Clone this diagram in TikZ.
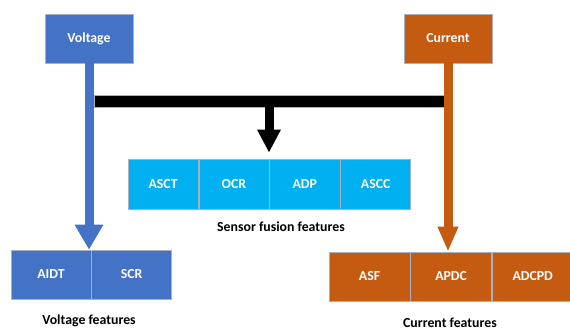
\documentclass[tikz,border=0pt]{standalone}
\usepackage{fontspec}
\setmainfont{Carlito}
\usetikzlibrary{arrows.meta,positioning}
\definecolor{voltblue}{HTML}{4472C4}
\definecolor{currorange}{HTML}{C55A11}
\definecolor{fusioncyan}{HTML}{00B0F0}
\definecolor{edgegray}{HTML}{A9B1C0}

\begin{document}
\begin{tikzpicture}[x=1pt,y=-1pt]
	\tikzstyle{every node}=[font=\fontsize{13.8}{16}\selectfont\bfseries]
	\tikzstyle{srcbox}=[draw=edgegray, line width=0.6pt, text=white, minimum width=88pt, minimum height=49pt, inner sep=0pt]
	\tikzstyle{cell}=[draw=edgegray, line width=0.6pt, text=white, minimum height=49pt, inner sep=0pt]
	\tikzstyle{feed}=[line width=9pt]
	\useasboundingbox (0,0) rectangle (570,332);
	% sources and bus bar
	\node [srcbox, fill=voltblue] (volt) at (89,38.5) {Voltage};
	\node [srcbox, fill=currorange] (curr) at (448,38.5) {Current};
	\node [draw=edgegray, fill=black, line width=0.6pt, minimum width=350pt, minimum height=12pt, inner sep=0pt] (bus) at (269,101) {};
	% sensor fusion features
	\node [cell, fill=fusioncyan, minimum width=70.25pt, minimum height=50pt] (asct) at (163.1,184) {ASCT};
	\node [cell, fill=fusioncyan, minimum width=70.25pt, minimum height=50pt, right=0pt of asct] (ocr) {OCR};
	\node [cell, fill=fusioncyan, minimum width=70.25pt, minimum height=50pt, right=0pt of ocr] (adp) {ADP};
	\node [cell, fill=fusioncyan, minimum width=70.25pt, minimum height=50pt, right=0pt of adp] (ascc) {ASCC};
	% voltage features
	\node [cell, fill=voltblue, minimum width=80pt] (aidt) at (51,274.5) {AIDT};
	\node [cell, fill=voltblue, minimum width=80pt, right=0pt of aidt] (scr) {SCR};
	% current features
	\node [cell, fill=currorange, minimum width=81pt] (asf) at (369.5,276.5) {ASF};
	\node [cell, fill=currorange, minimum width=81pt, right=0pt of asf] (apdc) {APDC};
	\node [cell, fill=currorange, minimum width=81pt, right=0pt of apdc] (adcpd) {ADCPD};
	% arrows
	\draw [feed, voltblue, -{Triangle[width=27pt,length=25pt]}] (volt.south) -- (volt.south |- aidt.north);
	\draw [feed, currorange, -{Triangle[width=19pt,length=25pt]}] (curr.south) -- (curr.south |- apdc.north);
	\draw [feed, black, shorten >=6pt, -{Triangle[width=22pt,length=23pt]}] (bus.south) -- (bus.south |- adp.north);
	% captions
	\node (fusionlbl) at (281,227) {Sensor fusion features};
	\node (voltlbl) at (89,321) {Voltage features};
	\node (currlbl) at (450,323) {Current features};
\end{tikzpicture}
\end{document}
